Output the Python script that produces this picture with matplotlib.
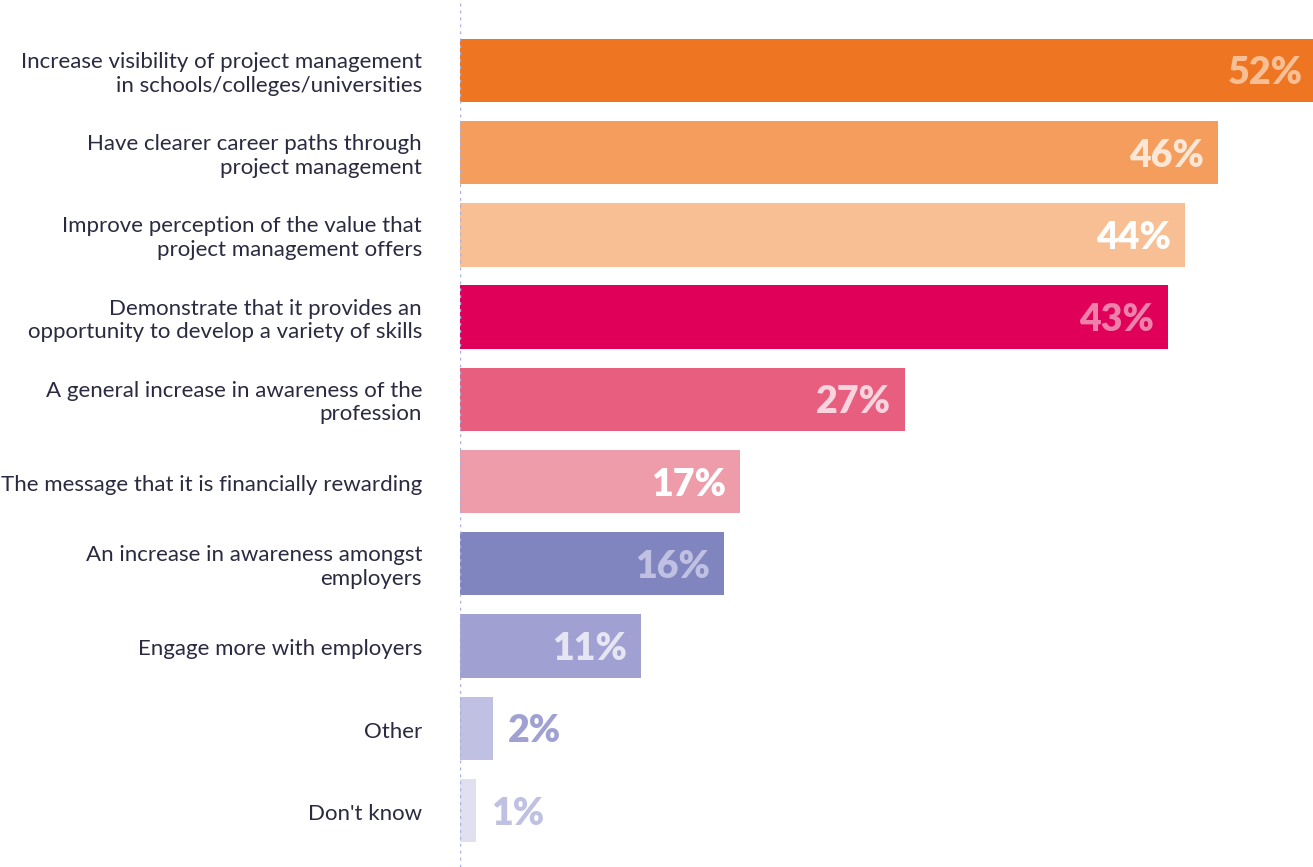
import matplotlib
matplotlib.use("Agg")
import matplotlib.pyplot as plt

categories = [
    "Increase visibility of project management\nin schools/colleges/universities",
    "Have clearer career paths through\nproject management",
    "Improve perception of the value that\nproject management offers",
    "Demonstrate that it provides an\nopportunity to develop a variety of skills",
    "A general increase in awareness of the\nprofession",
    "The message that it is financially rewarding",
    "An increase in awareness amongst\nemployers",
    "Engage more with employers",
    "Other",
    "Don't know",
]
values = [52, 46, 44, 43, 27, 17, 16, 11, 2, 1]
bar_colors = ["#EE7623", "#F49D5C", "#F8BF94", "#E0005A", "#E85E7E",
              "#EF9CAA", "#8085C0", "#A0A1D2", "#C0C1E2", "#E0E0F1"]
label_colors = ["#F8BF94", "#FCE6D6", "#FFFFFF", "#EE80AC", "#F9D3DD",
                "#FFFFFF", "#C0C1E2", "#E6E6F3", "#A0A1D2", "#C0C1E2"]
inside = [True, True, True, True, True, True, True, True, False, False]

W, H = 1313, 867
fig = plt.figure(figsize=(W / 100, H / 100), dpi=100)
ax = fig.add_axes([460 / W, 0, 1 - 460 / W, 1])

ypos = list(range(len(values)))
ax.barh(ypos, values, height=0.77, color=bar_colors, zorder=2)

ax.set_xlim(0, (W - 460) / 16.47)
ax.set_ylim(9.687, -0.857)
ax.axvline(0, color="#A9AFE0", lw=1.0, ls=(0, (2, 3)), zorder=3)

for y, v, lc, ins in zip(ypos, values, label_colors, inside):
    txt = f"{v}%"
    if ins:
        ax.text(v - 0.85, y, txt, ha="right", va="center_baseline",
                fontsize=27, fontweight="heavy", family="Lato", color=lc, zorder=4)
    else:
        ax.text(v + 0.9, y, txt, ha="left", va="center_baseline",
                fontsize=27, fontweight="heavy", family="Lato", color=lc, zorder=4)

for y, c in zip(ypos, categories):
    ax.text(-2.3, y + 0.04, c, ha="right", va="center", fontsize=16.0,
            family="Lato", color="#2A2A40", linespacing=1.22,
            transform=ax.transData, clip_on=False)

ax.set_xticks([])
ax.set_yticks([])
for s in ax.spines.values():
    s.set_visible(False)

fig.savefig("out.png", dpi=100)
